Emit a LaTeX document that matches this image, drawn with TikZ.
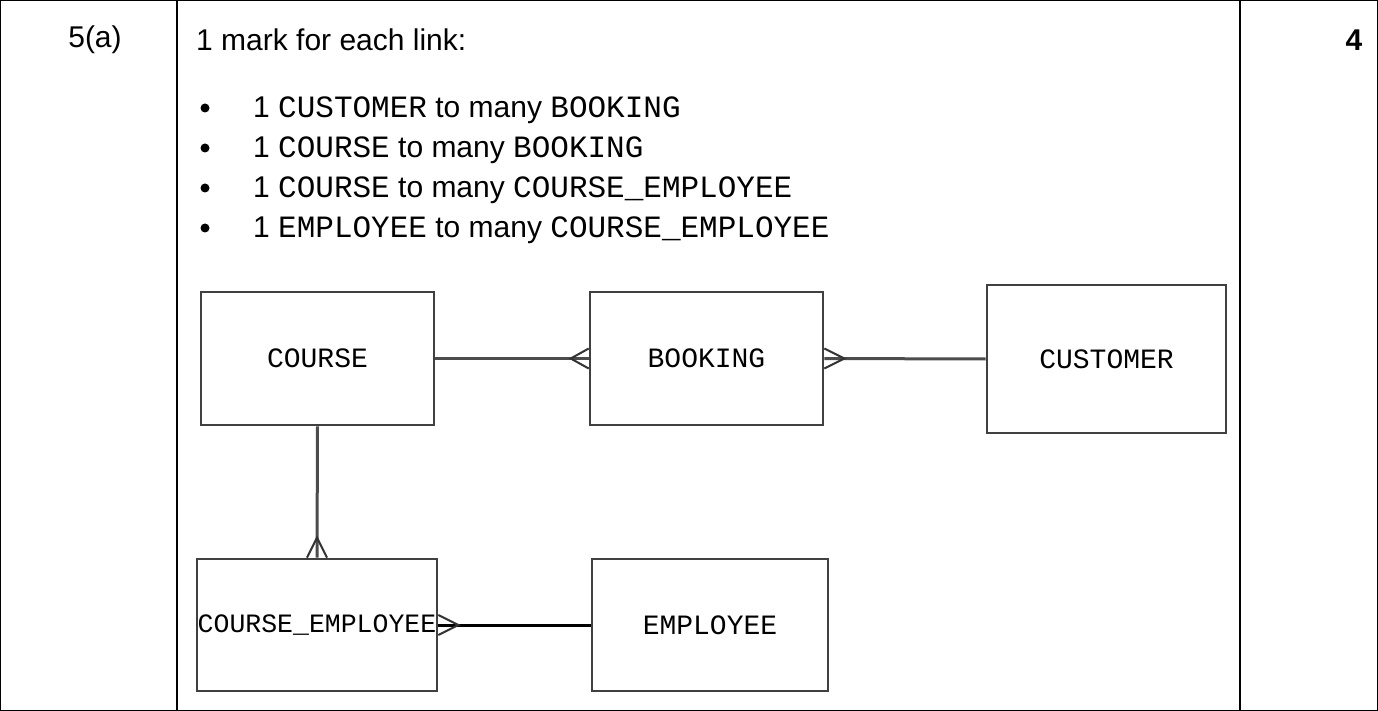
\documentclass[tikz,border=0pt]{standalone}
\usepackage{fontspec}
\setmainfont{Liberation Sans}
\newfontfamily\monof{Liberation Mono}
\begin{document}
\begin{tikzpicture}[x=1pt,y=-1pt,
  box/.style={draw=black!75,line width=2.6pt,minimum width=#1,inner sep=0pt},
  lbl/.style={font=\monof\fontsize{28}{28}\selectfont},
  txt/.style={anchor=west,inner sep=0pt,font=\fontsize{30}{30}\selectfont},
  ln/.style={draw=black!70,line width=3pt},
  foot/.style={draw=black!80,line width=2pt}]
\useasboundingbox (0,0) rectangle (1378,711);
\draw[line width=1.4pt] (0.7,0.7) rectangle (1377.3,710.3);
\draw[line width=1.4pt] (177,0) -- (177,711) (1240,0) -- (1240,711);
\node[txt,anchor=center] (q) at (95,40) {5(a)};
\node[txt] (h) at (196,40) {1 mark for each link:};
\node[txt,anchor=center,font=\bfseries\fontsize{30}{30}\selectfont] (m) at (1354,40) {4};
\newcommand{\mn}[1]{{\monof\fontsize{31}{31}\selectfont #1}}
\foreach \yy/\t [count=\i] in {108/{1 \mn{CUSTOMER} to many \mn{BOOKING}},148/{1 \mn{COURSE} to many \mn{BOOKING}},188/{1 \mn{COURSE} to many \mn{COURSE\_EMPLOYEE}},228/{1 \mn{EMPLOYEE} to many \mn{COURSE\_EMPLOYEE}}}{
  \fill (205,\yy) circle (4.5);
  \node[txt] (b\i) at (253,\yy+2) {\t};
}
\node[box=233pt,minimum height=133pt,lbl] (course) at (317.5,358.5) {COURSE};
\node[box=233pt,minimum height=133pt,lbl] (booking) at (706.5,358.5) {BOOKING};
\node[box=239pt,minimum height=148pt,lbl] (customer) at (1106.5,359) {CUSTOMER};
\node[box=240pt,minimum height=132pt,lbl,font=\monof\fontsize{26.5}{26.5}\selectfont] (ce) at (317,625) {COURSE\_EMPLOYEE};
\node[box=236pt,minimum height=132pt,lbl] (employee) at (710,625) {EMPLOYEE};
% connectors
\draw[ln] (course.east) -- (booking.west);
\draw[ln] (booking.east) -- (customer.west);
\draw[ln] (course.south) -- (ce.north);
\draw[ln,black] (ce.east) -- (employee.west);
% crow's feet
\draw[foot] ([yshift=-10]booking.west) -- ([xshift=-18]booking.west) -- ([yshift=10]booking.west);
\draw[foot] ([yshift=-10]booking.east) -- ([xshift=20]booking.east) -- ([yshift=10]booking.east);
\draw[foot] ([xshift=-10]ce.north) -- ([yshift=20]ce.north) -- ([xshift=10]ce.north);
\draw[foot] ([yshift=-10]ce.east) -- ([xshift=20]ce.east) -- ([yshift=10]ce.east);
\end{tikzpicture}
\end{document}
